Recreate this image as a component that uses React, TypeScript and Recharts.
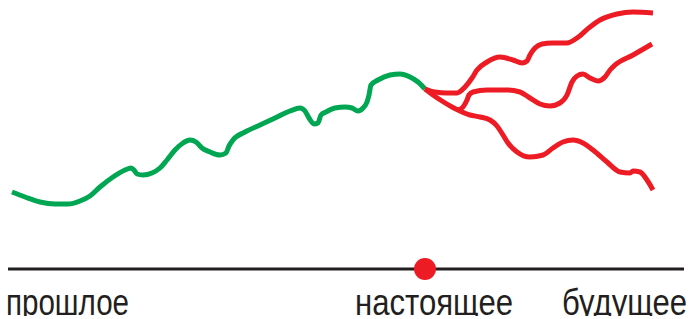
import React from 'react';
import { LineChart, Line, XAxis, YAxis, ReferenceDot } from 'recharts';

// [time, height above the timeline]
const pastPath = [
  [12, 77], [25, 72], [40, 67], [55, 65], [68, 65], [80, 68], [90, 73], [100, 82],
  [113, 92], [125, 99], [131, 101], [134, 99], [137, 95], [143, 94], [152, 96],
  [160, 101], [167, 109], [175, 119], [183, 126], [190, 129], [196, 127], [202, 121],
  [210, 117], [220, 114], [226, 116], [229, 123], [233, 129], [245, 137], [260, 144],
  [275, 151], [290, 158], [300, 161], [305, 158], [309, 151], [314, 145], [318, 146],
  [321, 154], [326, 157], [335, 161], [345, 162], [352, 161], [358, 158], [363, 161],
  [367, 167], [369, 174], [371, 184], [378, 189], [390, 194], [400, 195], [410, 192],
  [418, 187], [425, 180],
];

const futureHigh = [
  [425, 180], [435, 177], [447, 176], [457, 176], [465, 182], [472, 191], [477, 199],
  [487, 207], [500, 212], [513, 209], [522, 206], [527, 208], [530, 214], [535, 221],
  [542, 225], [552, 226], [567, 226], [577, 231], [590, 242], [600, 249], [617, 255],
  [633, 257], [653, 256],
];

const futureMid = [
  [458, 159], [463, 162], [467, 169], [469, 174], [473, 177], [487, 179], [507, 179],
  [520, 177], [530, 171], [540, 165], [550, 163], [560, 166], [567, 174], [572, 187],
  [577, 193], [583, 195], [590, 191], [598, 188], [605, 192], [610, 199], [615, 204],
  [633, 214], [652, 225],
];

const futureLow = [
  [425, 180], [433, 174], [442, 168], [452, 162], [460, 158], [470, 154], [480, 152],
  [490, 149], [497, 143], [503, 134], [508, 126], [517, 117], [530, 112], [543, 114],
  [553, 121], [563, 127], [573, 129], [583, 126], [593, 119], [607, 107], [620, 97],
  [630, 96], [633, 98], [640, 97], [647, 89], [653, 79],
];

const tickPositions = [67.5, 434, 624.5];
const tickLabels = ['прошлое', 'настоящее', 'будущее'];
const tickWidths = [123, 158, 125];

const nowPoint = 425;

const toRows = (pts: number[][]) => pts.map(([t, v]) => ({ t, v }));

const GREEN = '#00a651';
const RED = '#ed1c24';
const INK = '#231f20';

// the source picture is cropped just under the baseline, so descenders are cut
const TimeTick = (props: any) => {
  const { x, index } = props;
  const id = `tick-clip-${index}`;
  return (
    <g>
      <defs>
        <clipPath id={id}>
          <rect x={0} y={0} width={691} height={316} />
        </clipPath>
      </defs>
      <text
        x={x}
        y={315}
        textAnchor="middle"
        fill={INK}
        fontSize={37}
        fontFamily="'Liberation Sans', Arial, sans-serif"
        textLength={tickWidths[index]}
        lengthAdjust="spacingAndGlyphs"
        clipPath={`url(#${id})`}
      >
        {tickLabels[index]}
      </text>
    </g>
  );
};

export default function App() {
  return (
    <div style={{ position: 'absolute', left: 0, top: 0 }}>
      <LineChart width={691} height={319} margin={{ top: 0, right: 7, bottom: 0, left: 8 }}>
        <XAxis
          type="number"
          dataKey="t"
          domain={[8, 684]}
          ticks={tickPositions}
          interval={0}
          height={50}
          axisLine={{ stroke: INK, strokeWidth: 3 }}
          tickLine={false}
          tick={<TimeTick />}
        />
        <YAxis type="number" dataKey="v" domain={[0, 269]} hide allowDataOverflow />
        <Line data={toRows(pastPath)} dataKey="v" type="monotone" stroke={GREEN} strokeWidth={5} dot={false} isAnimationActive={false} strokeLinejoin="round" />
        <Line data={toRows(futureHigh)} dataKey="v" type="monotone" stroke={RED} strokeWidth={5} dot={false} isAnimationActive={false} strokeLinejoin="round" />
        <Line data={toRows(futureMid)} dataKey="v" type="monotone" stroke={RED} strokeWidth={5} dot={false} isAnimationActive={false} strokeLinejoin="round" />
        <Line data={toRows(futureLow)} dataKey="v" type="monotone" stroke={RED} strokeWidth={5} dot={false} isAnimationActive={false} strokeLinejoin="round" />
        <ReferenceDot x={nowPoint} y={0} r={11} fill={RED} stroke="none" ifOverflow="visible" />
      </LineChart>
    </div>
  );
}
